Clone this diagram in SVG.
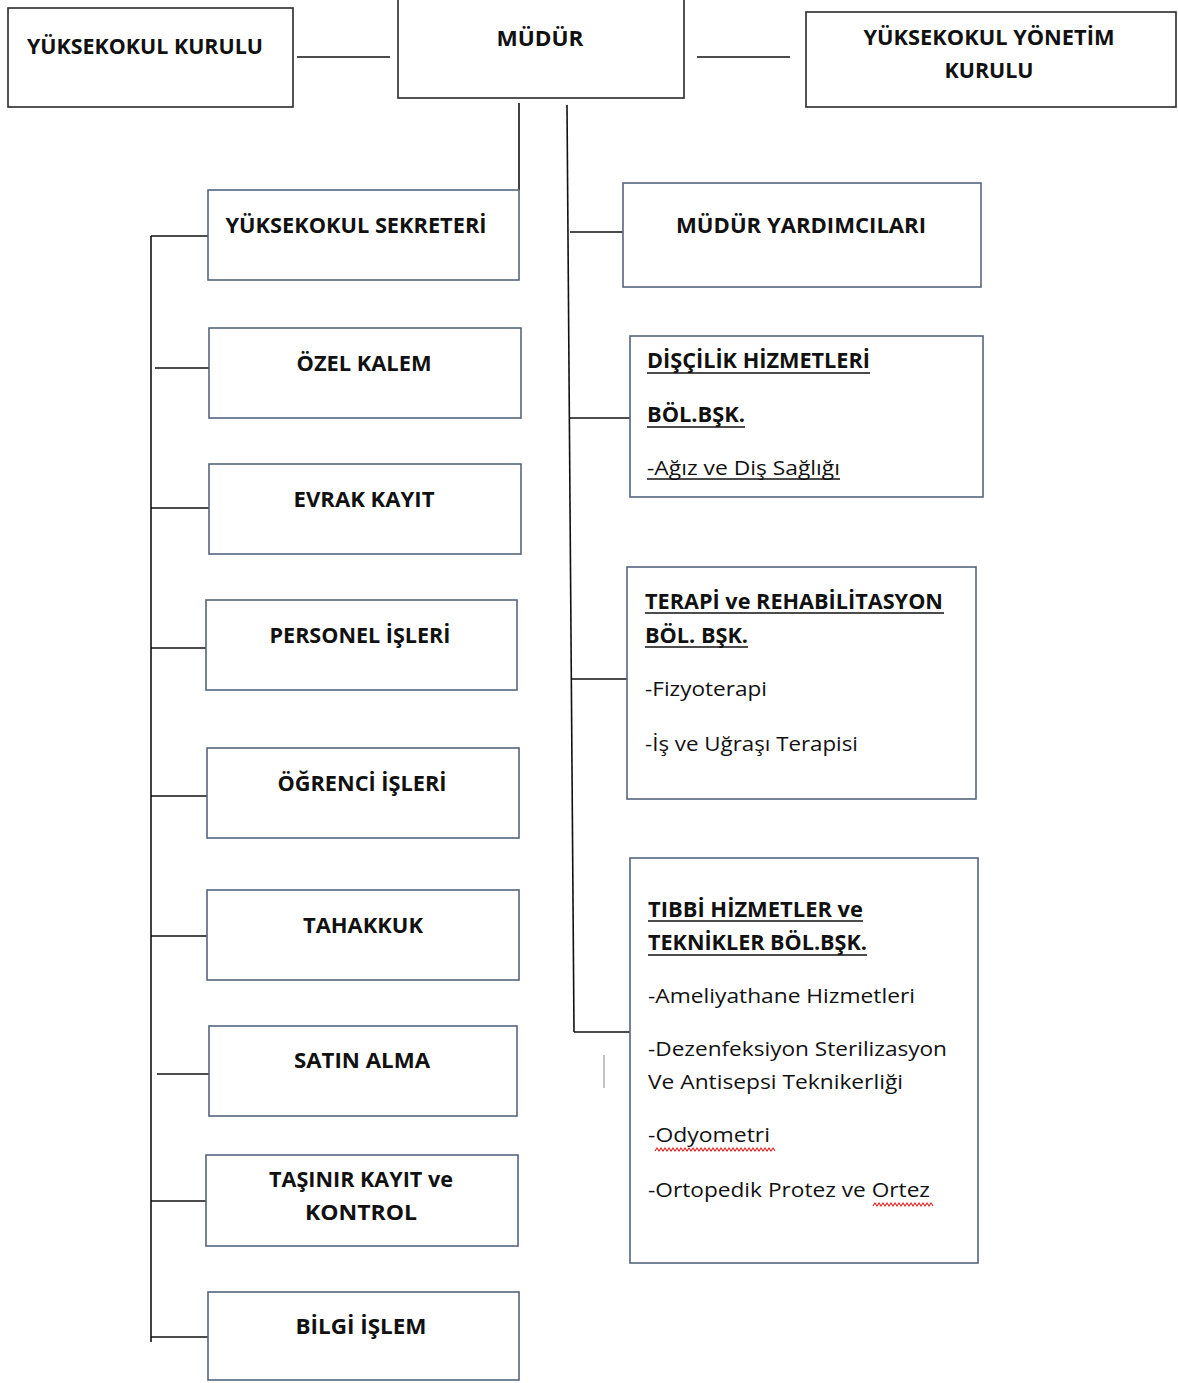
<svg xmlns="http://www.w3.org/2000/svg" width="1178" height="1383" viewBox="0 0 1178 1383">
<style>
.bx{fill:#fff;stroke:#56657d;stroke-width:1.6}
.bk{fill:#fff;stroke:#2a2a2a;stroke-width:1.6}
.c{fill:none;stroke:#111;stroke-width:1.6}
.h{font-family:"Open Sans","Noto Sans",sans-serif;font-weight:bold;font-size:22px;fill:#111}
.t{font-family:"Open Sans","Noto Sans",sans-serif;font-size:20.5px;fill:#111}
.m{text-anchor:middle}
.u{stroke:#111;stroke-width:1.4}
.w{fill:none;stroke:#d22;stroke-width:1.1}
</style>
<rect width="1178" height="1383" fill="#fff"/>
<g id="connectors">
<line class="c" x1="297" y1="57" x2="390" y2="57"/>
<line class="c" x1="697" y1="57" x2="790" y2="57"/>
<polyline class="c" points="519,103 519,190"/>
<line class="c" x1="567" y1="105" x2="574" y2="1032"/>
<line class="c" x1="151" y1="236" x2="151" y2="1342"/>
<line class="c" x1="151" y1="236" x2="208" y2="236"/>
<line class="c" x1="155" y1="368" x2="209" y2="368"/>
<line class="c" x1="151" y1="508" x2="209" y2="508"/>
<line class="c" x1="151" y1="648" x2="206" y2="648"/>
<line class="c" x1="151" y1="796" x2="207" y2="796"/>
<line class="c" x1="151" y1="936" x2="207" y2="936"/>
<line class="c" x1="157" y1="1074" x2="211" y2="1074"/>
<line class="c" x1="151" y1="1201" x2="206" y2="1201"/>
<line class="c" x1="151" y1="1337" x2="210" y2="1337"/>
<line class="c" x1="570" y1="232" x2="623" y2="232"/>
<line class="c" x1="570" y1="418" x2="630" y2="418"/>
<line class="c" x1="572" y1="679" x2="627" y2="679"/>
<line class="c" x1="574" y1="1032" x2="630" y2="1032"/>
<line x1="604" y1="1055" x2="604" y2="1088" stroke="#999" stroke-width="1.2"/>
</g>
<g id="yuksekokul-kurulu">
<rect class="bk" x="8" y="8" width="285" height="99"/>
<text class="h m" x="145" y="54" textLength="236" lengthAdjust="spacingAndGlyphs">YÜKSEKOKUL KURULU</text>
</g>
<g id="mudur">
<rect class="bk" x="398" y="-1" width="286" height="99"/>
<text class="h m" x="540" y="46" textLength="87" lengthAdjust="spacingAndGlyphs">MÜDÜR</text>
</g>
<g id="yonetim-kurulu">
<rect class="bk" x="806" y="12" width="370" height="95"/>
<text class="h m" x="989" y="45" textLength="251" lengthAdjust="spacingAndGlyphs">YÜKSEKOKUL YÖNETİM</text>
<text class="h m" x="989" y="78" textLength="89" lengthAdjust="spacingAndGlyphs">KURULU</text>
</g>
<g id="sekreter">
<rect class="bx" x="208" y="190" width="311" height="90"/>
<text class="h m" x="356" y="233" textLength="261" lengthAdjust="spacingAndGlyphs">YÜKSEKOKUL SEKRETERİ</text>
</g>
<g id="ozel-kalem">
<rect class="bx" x="209" y="328" width="312" height="90"/>
<text class="h m" x="364" y="371" textLength="135" lengthAdjust="spacingAndGlyphs">ÖZEL KALEM</text>
</g>
<g id="evrak-kayit">
<rect class="bx" x="209" y="464" width="312" height="90"/>
<text class="h m" x="364" y="507" textLength="141" lengthAdjust="spacingAndGlyphs">EVRAK KAYIT</text>
</g>
<g id="personel">
<rect class="bx" x="206" y="600" width="311" height="90"/>
<text class="h m" x="360" y="643" textLength="181" lengthAdjust="spacingAndGlyphs">PERSONEL İŞLERİ</text>
</g>
<g id="ogrenci">
<rect class="bx" x="207" y="748" width="312" height="90"/>
<text class="h m" x="362" y="791" textLength="169" lengthAdjust="spacingAndGlyphs">ÖĞRENCİ İŞLERİ</text>
</g>
<g id="tahakkuk">
<rect class="bx" x="207" y="890" width="312" height="90"/>
<text class="h m" x="363" y="933" textLength="120" lengthAdjust="spacingAndGlyphs">TAHAKKUK</text>
</g>
<g id="satin-alma">
<rect class="bx" x="209" y="1026" width="308" height="90"/>
<text class="h m" x="362" y="1068" textLength="136" lengthAdjust="spacingAndGlyphs">SATIN ALMA</text>
</g>
<g id="tasinir">
<rect class="bx" x="206" y="1155" width="312" height="91"/>
<text class="h m" x="361" y="1187" textLength="184" lengthAdjust="spacingAndGlyphs">TAŞINIR KAYIT ve</text>
<text class="h m" x="361" y="1220" textLength="112" lengthAdjust="spacingAndGlyphs">KONTROL</text>
</g>
<g id="bilgi-islem">
<rect class="bx" x="208" y="1292" width="311" height="88"/>
<text class="h m" x="361" y="1334" textLength="131" lengthAdjust="spacingAndGlyphs">BİLGİ İŞLEM</text>
</g>
<g id="mudur-yardimcilari">
<rect class="bx" x="623" y="183" width="358" height="104"/>
<text class="h m" x="801" y="233" textLength="250" lengthAdjust="spacingAndGlyphs">MÜDÜR YARDIMCILARI</text>
</g>
<g id="discilik">
<rect class="bx" x="630" y="336" width="353" height="161"/>
<text class="h" x="647" y="368" textLength="223" lengthAdjust="spacingAndGlyphs">DİŞÇİLİK HİZMETLERİ</text>
<line class="u" x1="647" y1="373" x2="870" y2="373"/>
<text class="h" x="647" y="422" textLength="98" lengthAdjust="spacingAndGlyphs">BÖL.BŞK.</text>
<line class="u" x1="647" y1="427" x2="745" y2="427"/>
<text class="t" x="647" y="475" textLength="193" lengthAdjust="spacingAndGlyphs">-Ağız ve Diş Sağlığı</text>
<line class="u" x1="647" y1="479" x2="840" y2="479"/>
</g>
<g id="terapi">
<rect class="bx" x="627" y="567" width="349" height="232"/>
<text class="h" x="645" y="609" textLength="298" lengthAdjust="spacingAndGlyphs">TERAPİ ve REHABİLİTASYON</text>
<line class="u" x1="645" y1="613" x2="944" y2="613"/>
<text class="h" x="645" y="643" textLength="103" lengthAdjust="spacingAndGlyphs">BÖL. BŞK.</text>
<line class="u" x1="645" y1="647" x2="748" y2="647"/>
<text class="t" x="645" y="696" textLength="122" lengthAdjust="spacingAndGlyphs">-Fizyoterapi</text>
<text class="t" x="645" y="751" textLength="213" lengthAdjust="spacingAndGlyphs">-İş ve Uğraşı Terapisi</text>
</g>
<g id="tibbi">
<rect class="bx" x="630" y="858" width="348" height="405"/>
<text class="h" x="648" y="917" textLength="215" lengthAdjust="spacingAndGlyphs">TIBBİ HİZMETLER ve</text>
<line class="u" x1="648" y1="921" x2="863" y2="921"/>
<text class="h" x="648" y="950" textLength="219" lengthAdjust="spacingAndGlyphs">TEKNİKLER BÖL.BŞK.</text>
<line class="u" x1="648" y1="955" x2="867" y2="955"/>
<text class="t" x="648" y="1003" textLength="267" lengthAdjust="spacingAndGlyphs">-Ameliyathane Hizmetleri</text>
<text class="t" x="648" y="1056" textLength="299" lengthAdjust="spacingAndGlyphs">-Dezenfeksiyon Sterilizasyon</text>
<text class="t" x="648" y="1089" textLength="255" lengthAdjust="spacingAndGlyphs">Ve Antisepsi Teknikerliği</text>
<text class="t" x="648" y="1142" textLength="122" lengthAdjust="spacingAndGlyphs">-Odyometri</text>
<path class="w" d="M655 1151 l2 -3 l2 3 l2 -3 l2 3 l2 -3 l2 3 l2 -3 l2 3 l2 -3 l2 3 l2 -3 l2 3 l2 -3 l2 3 l2 -3 l2 3 l2 -3 l2 3 l2 -3 l2 3 l2 -3 l2 3 l2 -3 l2 3 l2 -3 l2 3 l2 -3 l2 3 l2 -3 l2 3 l2 -3 l2 3 l2 -3 l2 3 l2 -3 l2 3 l2 -3 l2 3 l2 -3 l2 3 l2 -3 l2 3 l2 -3 l2 3 l2 -3 l2 3 l2 -3 l2 3 l2 -3 l2 3 l2 -3 l2 3 l2 -3 l2 3 l2 -3 l2 3 l2 -3 l2 3 l2 -3 l2 3"/>
<text class="t" x="648" y="1197" textLength="282" lengthAdjust="spacingAndGlyphs">-Ortopedik Protez ve Ortez</text>
<path class="w" d="M873 1206 l2 -3 l2 3 l2 -3 l2 3 l2 -3 l2 3 l2 -3 l2 3 l2 -3 l2 3 l2 -3 l2 3 l2 -3 l2 3 l2 -3 l2 3 l2 -3 l2 3 l2 -3 l2 3 l2 -3 l2 3 l2 -3 l2 3 l2 -3 l2 3 l2 -3 l2 3 l2 -3 l2 3"/>
</g>
</svg>
